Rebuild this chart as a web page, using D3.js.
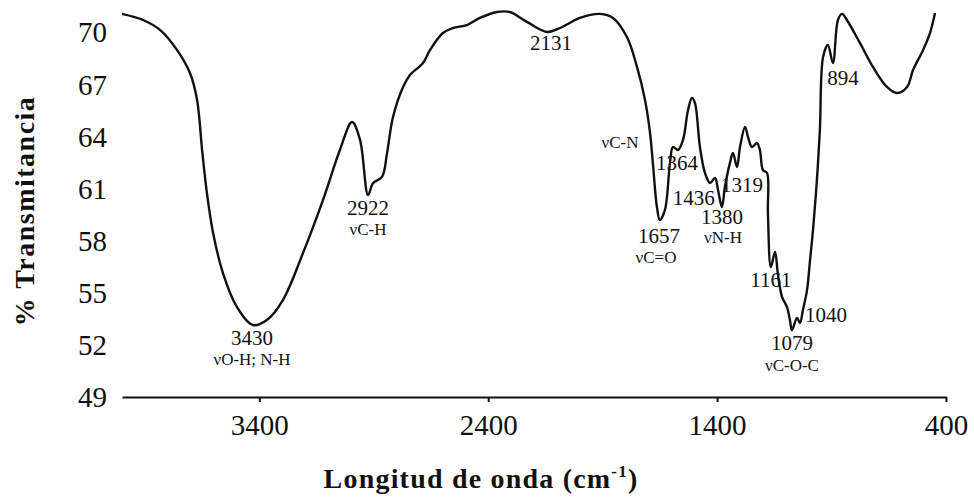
<!DOCTYPE html>
<html>
<head>
<meta charset="utf-8">
<script src="https://cdn.jsdelivr.net/npm/d3@7"></script>
<style>
  html, body { margin: 0; padding: 0; background: #fff; }
  svg { display: block; }
</style>
</head>
<body>
<svg id="chart" width="974" height="498"></svg>
<script>
// ---- data ----
const wavenumber = [4000,3908,3834,3760,3703,3672,3650,3629,3602,3559,3498,3428,3367,3297,3209,3122,3048,2995,2960,2925,2903,2864,2842,2816,2772,2742,2685,2654,2598,2554,2493,2436,2362,2305,2231,2143,2086,1999,1912,1855,1794,1750,1715,1693,1680,1663,1650,1628,1606,1593,1571,1549,1527,1510,1497,1475,1453,1431,1409,1396,1379,1366,1344,1331,1313,1300,1278,1265,1248,1226,1213,1200,1182,1178,1165,1147,1134,1116,1095,1082,1073,1051,1038,1025,1007,994,981,964,951,937,916,894,872,854,833,776,719,658,614,570,544,500,470,448];
const transmittance = [71.04,70.69,70.12,68.97,67.64,66.09,63.21,60.74,58.44,56.13,54.18,53.14,53.43,54.58,57.29,60.33,63.21,64.82,63.79,60.62,61.31,61.66,63.04,65.11,66.84,67.53,68.22,68.97,69.94,70.23,70.40,70.81,71.15,71.15,70.58,70.00,70.23,70.81,71.04,70.81,69.71,67.99,66.09,64.19,62.35,59.93,59.18,59.76,62.46,63.38,63.21,63.79,65.51,66.20,65.92,63.38,61.89,61.31,61.60,60.91,59.93,61.08,62.46,63.04,62.23,63.38,64.53,63.96,63.38,63.61,63.21,62.06,61.89,59.59,56.48,57.35,56.02,54.75,54.18,53.43,52.85,53.55,53.26,54.01,55.16,56.88,58.61,61.49,64.36,68.56,69.25,68.22,70.69,71.04,70.69,69.37,67.99,66.84,66.49,66.84,67.81,68.97,69.94,71.09];

const xTicks = [3400, 2400, 1400, 400];
const yTicks = [49, 52, 55, 58, 61, 64, 67, 70];

// annotation texts and their anchor positions in data units
const annotText  = ["3430","νO-H; N-H","2922","νC-H","2131","νC-N","1364","1436","1319","1380","νN-H","1657","νC=O","1161","1040","1079","νC-O-C","894"];
const annotWave  = [3432,3432,2925,2925,2126,1824,1575,1502,1291,1379,1374,1654,1667,1165,924,1073,1073,850];
const annotValue = [51.99,50.85,59.47,58.33,68.97,63.33,62.06,60.02,60.80,58.98,57.84,57.86,56.72,55.33,53.32,51.70,50.50,66.95];

const xTitle = "Longitud de onda (cm";
const yTitle = "% Transmitancia";

// ---- drawing ----
const svg = d3.select("#chart");
const serif = "'Liberation Serif', 'Times New Roman', serif";

const x = d3.scaleLinear().domain([4000, 400]).range([122, 946]);
const y = d3.scaleLinear().domain([49, 70]).range([397, 32]);

svg.append("rect").attr("width", 974).attr("height", 498).attr("fill", "#fff");

// x axis
const xAxis = d3.axisBottom(x).tickValues(xTicks).tickSize(5).tickSizeOuter(0).tickFormat(d3.format("d"));
const gx = svg.append("g").attr("transform", `translate(0,${y(49)})`).call(xAxis);
gx.select(".domain").attr("stroke", "#111").attr("stroke-width", 2.2);
gx.selectAll(".tick line").attr("stroke", "#111").attr("stroke-width", 2);
gx.selectAll(".tick text")
  .attr("font-family", serif).attr("font-size", 29).attr("fill", "#111")
  .attr("dy", "1.02em").attr("y", 8);

// y axis (labels only)
const yAxis = d3.axisLeft(y).tickValues(yTicks).tickSize(0).tickPadding(15);
const gy = svg.append("g").attr("transform", `translate(122,0)`).call(yAxis);
gy.select(".domain").remove();
gy.selectAll(".tick text")
  .attr("font-family", serif).attr("font-size", 29).attr("fill", "#111")
  .attr("dy", "0.34em");

// spectrum line
const pts = wavenumber.map((w, i) => [w, transmittance[i]]);
const line = d3.line()
  .x(d => x(d[0]))
  .y(d => y(d[1]))
  .curve(d3.curveCatmullRom.alpha(0.5));
svg.append("path")
  .datum(pts)
  .attr("d", line)
  .attr("fill", "none")
  .attr("stroke", "#111")
  .attr("stroke-width", 2.4)
  .attr("stroke-linejoin", "round");

// annotations
svg.append("g").selectAll("text")
  .data(annotText.map((t, i) => ({t, w: annotWave[i], v: annotValue[i]})))
  .join("text")
  .attr("x", d => x(d.w))
  .attr("y", d => y(d.v))
  .attr("text-anchor", "middle")
  .attr("font-family", serif)
  .attr("font-size", d => d.t.startsWith("ν") ? 17 : 21)
  .attr("fill", "#111")
  .text(d => d.t);

// axis titles
const xt = svg.append("text")
  .attr("x", 481).attr("y", 488)
  .attr("text-anchor", "middle")
  .attr("font-family", serif).attr("font-weight", "bold")
  .attr("font-size", 28).attr("letter-spacing", 1.2).attr("fill", "#111");
xt.append("tspan").text(xTitle);
xt.append("tspan").attr("font-size", 17).attr("dy", -11).text("-1");
xt.append("tspan").attr("dy", 11).text(")");

svg.append("text")
  .attr("transform", "translate(34,211) rotate(-90)")
  .attr("text-anchor", "middle")
  .attr("font-family", serif).attr("font-weight", "bold")
  .attr("font-size", 28).attr("letter-spacing", 1.5).attr("fill", "#111")
  .text(yTitle);
</script>
</body>
</html>
